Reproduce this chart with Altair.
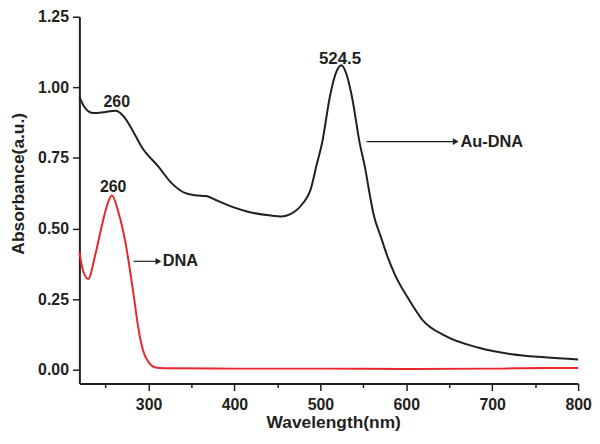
import altair as alt
import pandas as pd

# Au-DNA spectrum (wavelength nm, absorbance)
au_w = [219.5, 225, 230, 236.5, 248, 261.5, 271, 280.7, 292.2, 311.5, 326.8, 342.3, 353.8,
        367.2, 380.7, 400, 419.1, 442.2, 455, 465.2, 478.7, 488.3, 496, 501.8, 511.4, 518, 524.5,
        530, 536.4, 546, 551.7, 557.5, 561.4, 571, 578.7, 586.6, 603.6, 619, 646, 684.4, 722.9,
        761.3, 800]
au_v = [0.966, 0.932, 0.915, 0.909, 0.912, 0.917, 0.897, 0.851, 0.788, 0.719, 0.661, 0.626,
        0.618, 0.615, 0.598, 0.574, 0.557, 0.546, 0.543, 0.551, 0.586, 0.635, 0.73, 0.80, 0.972,
        1.05, 1.078, 1.05, 0.972, 0.799, 0.72, 0.62, 0.557, 0.465, 0.396, 0.338, 0.246, 0.176,
        0.119, 0.078, 0.055, 0.044, 0.036]

# DNA spectrum
dna_w = [219.5, 223, 229.6, 238, 245.7, 251.5, 257.3, 265, 272.6, 283, 288, 292.2,
         300, 309.5, 328.8, 400, 500, 600, 700, 760, 800]
dna_v = [0.419, 0.36, 0.321, 0.407, 0.511, 0.580, 0.617, 0.557, 0.459, 0.257, 0.15, 0.084,
         0.027, 0.007, 0.005, 0.004, 0.004, 0.003, 0.004, 0.006, 0.006]

series_names = ["Au-DNA", "DNA"]
series_colors = ["#231f20", "#e8262b"]

# annotations
peak_labels = ["260", "260", "524.5"]
peak_w = [263, 258.8, 522.9]
peak_v = [0.949, 0.647, 1.101]
peak_size = [16, 16, 17]

arrow_names = ["Au-DNA", "DNA"]
arrow_w1 = [553.7, 282.6]
arrow_w2 = [657.5, 311.5]
arrow_v = [0.808, 0.384]
arrow_text_w = [663, 316.5]

x_ticks = [250, 300, 350, 400, 450, 500, 550, 600, 650, 700, 750, 800]
y_ticks = [0.0, 0.125, 0.25, 0.375, 0.5, 0.625, 0.75, 0.875, 1.0, 1.125, 1.25]

df = pd.concat([
    pd.DataFrame({"w": au_w, "v": au_v, "s": "Au-DNA", "o": range(len(au_w))}),
    pd.DataFrame({"w": dna_w, "v": dna_v, "s": "DNA", "o": range(len(dna_w))}),
])
peaks = pd.DataFrame({"t": peak_labels, "w": peak_w, "v": peak_v, "fs": peak_size})
arrows = pd.DataFrame({"t": arrow_names, "w1": arrow_w1, "w2": arrow_w2, "v": arrow_v,
                       "wt": arrow_text_w})

FONT = "Liberation Sans"
INK = "#231f20"
xs = alt.Scale(domain=[219.5, 800], nice=False, zero=False)
ys = alt.Scale(domain=[-0.049, 1.25], nice=False, zero=False)

x_minor_test = "datum.value % 100 != 0"
y_minor_test = "abs(datum.value * 4 - round(datum.value * 4)) > 0.001"
minor_dash = [4, 30]
major_dash = [8, 0]

x_axis = alt.Axis(orient="bottom", values=x_ticks, title="Wavelength(nm)", format="d",
                  labelExpr=f"{x_minor_test} ? '' : datum.label", labelFlush=False,
                  labelOverlap=False, tickSize=7,
                  tickDash={"condition": {"test": x_minor_test, "value": minor_dash},
                            "value": major_dash},
                  labelPadding=6, titleBaseline="middle", titleX=256, titleY=39)
y_axis = alt.Axis(orient="left", values=y_ticks, title="Absorbance(a.u.)", format=".2f",
                  labelExpr=f"{y_minor_test} ? '' : datum.label", labelFlush=False,
                  labelOverlap=False, tickSize=7,
                  tickDash={"condition": {"test": y_minor_test, "value": minor_dash},
                            "value": major_dash},
                  labelPadding=4, titleBaseline="middle", titleX=-61, titleY=168,
                  titleAngle=270)

lines = alt.Chart(df).mark_line(strokeWidth=2, interpolate="monotone").encode(
    x=alt.X("w:Q", scale=xs, axis=x_axis),
    y=alt.Y("v:Q", scale=ys, axis=y_axis),
    color=alt.Color("s:N", scale=alt.Scale(domain=series_names, range=series_colors),
                    legend=None),
    order="o:Q",
)

peak_text = alt.Chart(peaks).mark_text(font=FONT, fontWeight="bold", color=INK,
                                       baseline="middle").encode(
    x=alt.X("w:Q", scale=xs),
    y=alt.Y("v:Q", scale=ys),
    text="t:N",
    size=alt.Size("fs:Q", scale=None, legend=None),
)

arrow_lines = alt.Chart(arrows).mark_rule(color=INK, strokeWidth=1.2).encode(
    x=alt.X("w1:Q", scale=xs),
    x2="w2:Q",
    y=alt.Y("v:Q", scale=ys),
)
arrow_heads = alt.Chart(arrows).mark_point(shape="triangle-right", filled=True, color=INK,
                                           size=45, opacity=1).encode(
    x=alt.X("w2:Q", scale=xs),
    y=alt.Y("v:Q", scale=ys),
)
arrow_text = alt.Chart(arrows).mark_text(font=FONT, fontSize=16.5, fontWeight="bold", color=INK,
                                         align="left", baseline="middle").encode(
    x=alt.X("wt:Q", scale=xs),
    y=alt.Y("v:Q", scale=ys),
    text="t:N",
)

chart = alt.layer(lines, peak_text, arrow_lines, arrow_heads, arrow_text).properties(
    width=503, height=370,
    autosize=alt.AutoSizeParams(type="none"),
    padding={"left": 72, "top": 7, "right": 14, "bottom": 46},
    background="white",
).configure_view(stroke=None).configure_axis(
    grid=False, domain=True, domainColor=INK, domainWidth=2, ticks=True, tickColor=INK,
    tickWidth=1.5, labelFont=FONT, labelFontSize=16, labelFontWeight="bold", labelColor=INK,
    titleFont=FONT, titleFontSize=17.5, titleFontWeight="bold", titleColor=INK,
)

chart.save("out.html", embed_options={"renderer": "svg", "actions": False})
